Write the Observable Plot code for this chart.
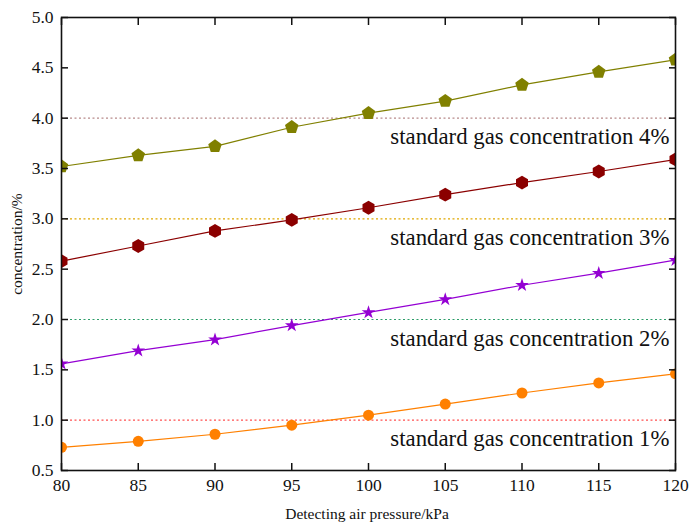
<!DOCTYPE html>
<html>
<head>
<meta charset="utf-8">
<script src="https://cdn.jsdelivr.net/npm/d3@7"></script>
<script src="https://cdn.jsdelivr.net/npm/@observablehq/plot@0.6"></script>
<style>
  html, body { margin: 0; padding: 0; background: #fff; }
  #chart { position: relative; width: 690px; height: 522px; overflow: hidden; }
  #chart, #chart svg, #chart svg text { font-family: 'Liberation Serif', 'DejaVu Serif', 'Times New Roman', Times, serif !important; }
  #ylabel {
    position: absolute; left: 17px; top: 244px;
    transform: translate(-50%, -50%) rotate(-90deg);
    font-size: 15.5px; color: #111; white-space: nowrap;
  }
  #xlabel {
    position: absolute; left: 367px; top: 505px; transform: translateX(-50%);
    font-size: 15.5px; color: #111; white-space: nowrap;
  }
</style>
</head>
<body>
<div id="chart"><div id="ylabel">concentration/%</div><div id="xlabel">Detecting air pressure/kPa</div></div>
<script>
// Detecting air pressure (kPa)
const pressure = [80, 85, 90, 95, 100, 105, 110, 115, 120];
// Measured concentration (%) for each standard gas
const measured4 = [3.52, 3.63, 3.72, 3.91, 4.05, 4.17, 4.33, 4.46, 4.58];
const measured3 = [2.58, 2.73, 2.88, 2.99, 3.11, 3.24, 3.36, 3.47, 3.59];
const measured2 = [1.56, 1.69, 1.80, 1.94, 2.07, 2.20, 2.34, 2.46, 2.59];
const measured1 = [0.73, 0.79, 0.86, 0.95, 1.05, 1.16, 1.27, 1.37, 1.46];
// Standard gas concentrations (%) and their labels
const standards = [4, 3, 2, 1];
const standardLabels = ["standard gas concentration 4%", "standard gas concentration 3%",
                        "standard gas concentration 2%", "standard gas concentration 1%"];
// Axis ticks
const xTicks = [80, 85, 90, 95, 100, 105, 110, 115, 120];
const yTicks = [0.5, 1.0, 1.5, 2.0, 2.5, 3.0, 3.5, 4.0, 4.5, 5.0];

// Filled pentagon symbol
const pentagon = {
  draw(context, size) {
    const r = Math.sqrt(size / 2.378);
    for (let i = 0; i < 5; ++i) {
      const a = -Math.PI / 2 + i * 2 * Math.PI / 5;
      const px = r * Math.cos(a), py = r * Math.sin(a);
      if (i === 0) context.moveTo(px, py); else context.lineTo(px, py);
    }
    context.closePath();
  }
};

const series = [
  {values: measured4, color: "#808000", symbol: pentagon, r: 6.2},
  {values: measured3, color: "#8b0000", symbol: "hexagon", r: 6},
  {values: measured2, color: "#9400d3", symbol: "star", r: 4.3},
  {values: measured1, color: "#ff8000", symbol: "circle", r: 5.5}
];
const standardColors = ["#b88a8a", "#e0a800", "#2e9e6a", "#ff5050"];

const refRows = standards.map((v, i) => ({v, label: standardLabels[i], color: standardColors[i]}));

const marks = [
  Plot.ruleY(refRows, {y: "v", stroke: "color", strokeWidth: 1.1, strokeDasharray: "2,2.5"}),
  Plot.text(refRows, {x: () => 120, y: "v", text: "label", textAnchor: "end", dx: -6, dy: 19,
    fontSize: 22.8, fill: "#111"})
];
for (const s of series) {
  const rows = pressure.map((p, i) => ({p, c: s.values[i]}));
  marks.push(Plot.line(rows, {x: "p", y: "c", stroke: s.color, strokeWidth: 1.2, clip: true}));
  marks.push(Plot.dot(rows, {x: "p", y: "c", fill: s.color, stroke: "none", symbol: s.symbol, r: s.r, clip: true}));
}
marks.push(
  Plot.axisX({anchor: "bottom", ticks: xTicks, tickSize: -7, tickPadding: 15, fontSize: 17.5, label: null, strokeWidth: 1.5}),
  Plot.axisX({anchor: "top", ticks: xTicks, tickSize: -7, tickFormat: () => "", label: null, strokeWidth: 1.5}),
  Plot.axisY({anchor: "left", ticks: yTicks, tickSize: -7, tickPadding: 15, tickFormat: d3.format(".1f"), fontSize: 17.5, label: null, strokeWidth: 1.5}),
  Plot.axisY({anchor: "right", ticks: yTicks, tickSize: -7, tickFormat: () => "", label: null, strokeWidth: 1.5}),
  Plot.frame({stroke: "#111", strokeWidth: 1.6})
);

const chart = Plot.plot({
  width: 690,
  height: 522,
  marginLeft: 61,
  marginRight: 15,
  marginTop: 17,
  marginBottom: 52,
  x: {domain: [80, 120]},
  y: {domain: [0.5, 5.0]},
  style: {background: "white", color: "#111"},
  marks
});
document.getElementById("chart").prepend(chart);
chart.style.position = "absolute";
chart.style.left = "0";
chart.style.top = "0";
</script>
</body>
</html>
